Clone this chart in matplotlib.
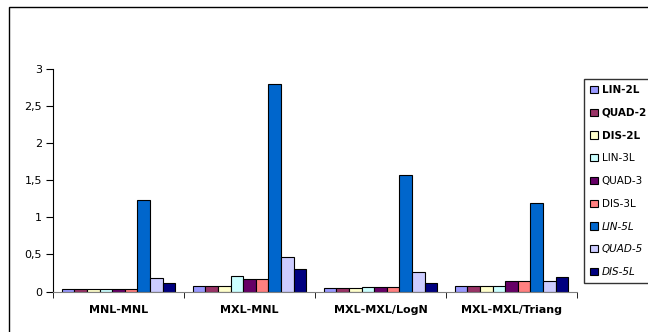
import numpy as np
import matplotlib.pyplot as plt
from matplotlib.patches import Rectangle
from matplotlib.ticker import FuncFormatter

plt.rcParams['font.family'] = ['DejaVu Sans']

categories = ['MNL-MNL', 'MXL-MNL', 'MXL-MXL/LogN', 'MXL-MXL/Triang']
series = ['LIN-2L', 'QUAD-2', 'DIS-2L', 'LIN-3L', 'QUAD-3', 'DIS-3L', 'LIN-5L', 'QUAD-5', 'DIS-5L']
colors = ['#9999FF', '#993366', '#FFFFCC', '#CCFFFF', '#660066', '#FF8080', '#0066CC', '#CCCCFF', '#000080']

# one list per series, values for the four model pairs
lin_2l = [0.04, 0.07, 0.05, 0.08]
quad_2 = [0.04, 0.07, 0.05, 0.08]
dis_2l = [0.04, 0.07, 0.05, 0.08]
lin_3l = [0.04, 0.21, 0.06, 0.08]
quad_3 = [0.04, 0.17, 0.06, 0.14]
dis_3l = [0.04, 0.17, 0.06, 0.14]
lin_5l = [1.23, 2.80, 1.57, 1.19]
quad_5 = [0.18, 0.47, 0.26, 0.14]
dis_5l = [0.11, 0.30, 0.11, 0.20]
values = [lin_2l, quad_2, dis_2l, lin_3l, quad_3, dis_3l, lin_5l, quad_5, dis_5l]

fig = plt.figure(figsize=(6.48, 3.32), dpi=100)
fig.patches.append(Rectangle((9 / 648, -0.2), 1.2, 1.2 - 7 / 332,
                             transform=fig.transFigure, fill=False,
                             edgecolor='black', linewidth=1.0))

ax = fig.add_axes([53 / 648, 40.5 / 332, 524 / 648, 222.5 / 332])
x = np.arange(len(categories))
w = 0.096
for i, (name, vals, c) in enumerate(zip(series, values, colors)):
    ax.bar(x + (i - 4) * w, vals, w, color=c, edgecolor='black',
           linewidth=0.8, label=name, zorder=2)

ax.set_xlim(-0.5, 3.5)
ax.set_ylim(0, 3)
ax.set_yticks(np.arange(0, 3.01, 0.5))
ax.yaxis.set_major_formatter(FuncFormatter(lambda v, p: f'{v:g}'.replace('.', ',')))
ax.set_xticks(x)
ax.set_xticklabels(categories, fontweight='bold', fontsize=8)
ax.set_xticks(np.arange(-0.5, 4.0, 1.0), minor=True)
ax.tick_params(axis='x', which='major', length=0, pad=10)
ax.tick_params(axis='x', which='minor', length=4, direction='out', color='black')
ax.tick_params(axis='y', length=5, direction='out', labelsize=8, pad=3)
ax.spines['top'].set_visible(False)
ax.spines['right'].set_visible(False)
ax.spines['bottom'].set_color('#808080')

leg = fig.legend(loc='upper left', bbox_to_anchor=(584 / 648, 1 - 79 / 332),
                 fontsize=7.5, frameon=True, fancybox=False, edgecolor='black',
                 handlelength=0.7, handleheight=0.7, handletextpad=0.4,
                 labelspacing=1.22, borderpad=0.6, borderaxespad=0)
leg.get_frame().set_linewidth(1.0)
for i, t in enumerate(leg.get_texts()):
    if i < 3:
        t.set_fontweight('bold')
    elif i >= 6:
        t.set_fontstyle('italic')

fig.savefig('out.png', dpi=100)
